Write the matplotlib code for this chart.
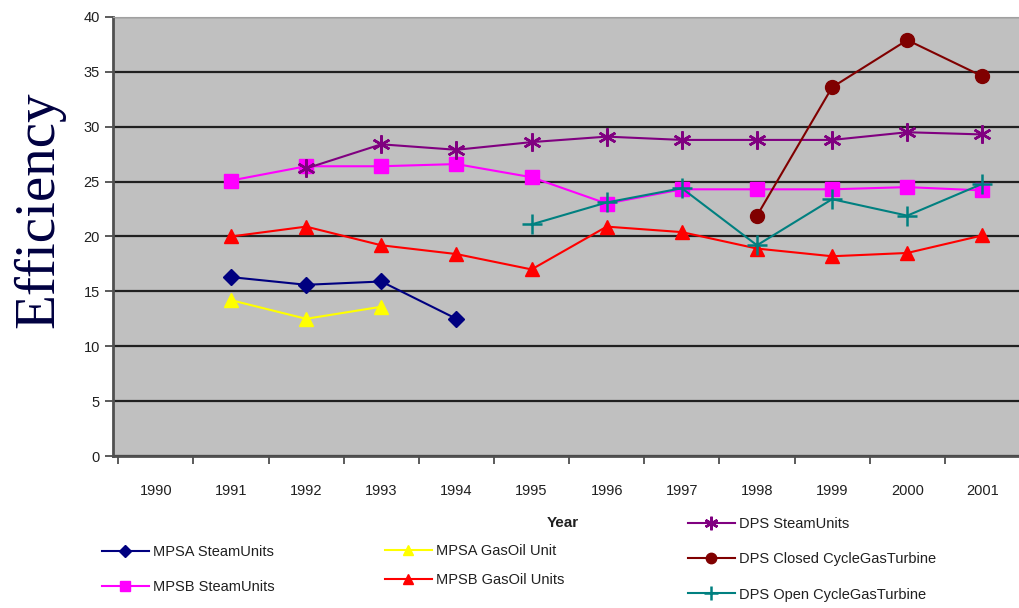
import numpy as np
import matplotlib.pyplot as plt

years = ['1990', '1991', '1992', '1993', '1994', '1995', '1996',
         '1997', '1998', '1999', '2000', '2001']
nan = np.nan

mpsa_steam = [nan, 16.3, 15.6, 15.9, 12.5, nan, nan, nan, nan, nan, nan, nan]
mpsa_gasoil = [nan, 14.2, 12.5, 13.6, nan, nan, nan, nan, nan, nan, nan, nan]
mpsb_steam = [nan, 25.1, 26.4, 26.4, 26.6, 25.4, 23.0, 24.3, 24.3, 24.3, 24.5, 24.2]
mpsb_gasoil = [nan, 20.0, 20.9, 19.2, 18.4, 17.0, 20.9, 20.4, 18.9, 18.2, 18.5, 20.1]
dps_steam = [nan, nan, 26.2, 28.4, 27.9, 28.6, 29.1, 28.8, 28.8, 28.8, 29.5, 29.3]
dps_closed = [nan, nan, nan, nan, nan, nan, nan, nan, 21.9, 33.6, 37.9, 34.6]
dps_open = [nan, nan, nan, nan, nan, 21.1, 23.1, 24.4, 19.2, 23.4, 21.9, 24.8]

plt.rcParams['font.family'] = ['Liberation Sans', 'DejaVu Sans']

fig = plt.figure(figsize=(10.2, 6.08), dpi=100)
ax = fig.add_axes([113/1020, 152/608, 1 - 113/1020, (456-17)/608])
ax.set_facecolor('#C0C0C0')

x = np.arange(len(years))
series = [
    ('MPSA SteamUnits', mpsa_steam, '#000080', 'D', 8),
    ('MPSA GasOil Unit', mpsa_gasoil, '#FFFF00', '^', 10),
    ('MPSB SteamUnits', mpsb_steam, '#FF00FF', 's', 10),
    ('MPSB GasOil Units', mpsb_gasoil, '#FF0000', '^', 10),
    ('DPS SteamUnits', dps_steam, '#800080', (6, 2, 0), 13),
    ('DPS Closed CycleGasTurbine', dps_closed, '#800000', 'o', 10),
    ('DPS Open CycleGasTurbine', dps_open, '#008080', '+', 14),
]
handles = {}
for name, vals, col, mk, ms in series:
    ln, = ax.plot(x, vals, color=col, lw=1.5, marker=mk, markersize=ms,
                  markeredgecolor=col, markerfacecolor=col, mew=1.8 if mk in ['+', (6, 2, 0)] else 1,
                  zorder=3)
    handles[name] = ln

ax.set_xlim(-0.57, 11.41)
ax.set_ylim(0, 40)
ax.set_yticks(np.arange(0, 41, 5))
ax.yaxis.grid(True, color='#202020', lw=1.6)
ax.set_axisbelow(True)
ax.set_xticks(x)
ax.set_xticklabels(years)
ax.set_xticks(np.arange(-0.5, 11.6, 1), minor=True)
ax.tick_params(axis='x', which='major', length=0, pad=20, labelsize=10.5, colors='#202020')
ax.tick_params(axis='x', which='minor', length=6, width=1.2, color='#404040')
ax.tick_params(axis='y', length=6, width=1.2, color='#404040', labelsize=10.5, labelcolor='#202020')

for s in ['left', 'bottom']:
    ax.spines[s].set_color('#505050')
    ax.spines[s].set_linewidth(2)
ax.spines['top'].set_color('#A0A0A0')
ax.spines['right'].set_visible(False)

fig.text(0.038, (608-210)/608, 'Efficiency', rotation=90, ha='center', va='center',
         fontsize=41, family='Liberation Serif', color='#000040')
fig.text(563/1020, 1 - 523/608, 'Year', ha='center', va='center', fontsize=11,
         fontweight='bold', color='#202020')

def leg(names, x0, y0, spacing):
    lg = fig.legend([handles[n] for n in names], names, loc='upper left',
                    bbox_to_anchor=(x0/1020, 1 - y0/608), frameon=False,
                    fontsize=10.5, handlelength=3.2, handletextpad=0.3,
                    labelspacing=spacing, borderaxespad=0, borderpad=0,
                    markerscale=0.75)
    for t in lg.get_texts():
        t.set_color('#202020')

leg(['MPSA SteamUnits', 'MPSB SteamUnits'], 102, 545, 1.45)
leg(['MPSA GasOil Unit', 'MPSB GasOil Units'], 385, 544, 1.05)
leg(['DPS SteamUnits', 'DPS Closed CycleGasTurbine', 'DPS Open CycleGasTurbine'], 688, 517, 1.46)

fig.savefig('out.png', dpi=100)
